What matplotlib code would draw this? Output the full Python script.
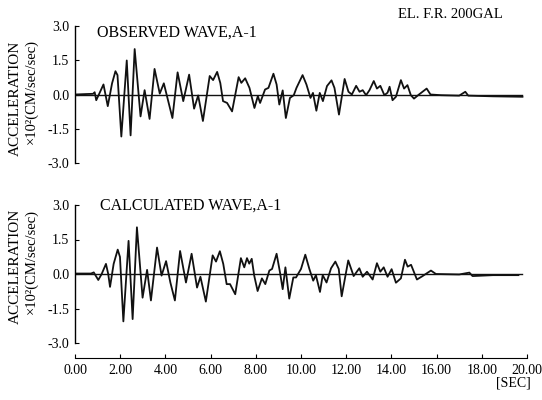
import matplotlib
matplotlib.use("Agg")
import matplotlib.pyplot as plt

# observed wave (time [sec], acceleration x10^2 cm/sec/sec)
obs_t = [0.0, 0.5, 0.8, 0.87, 0.94, 1.08, 1.26, 1.45, 1.64, 1.79, 1.88, 2.05,
         2.29, 2.46, 2.64, 2.90, 3.08, 3.30, 3.52, 3.75, 3.93, 4.31, 4.54, 4.79,
         5.05, 5.27, 5.45, 5.66, 5.96, 6.11, 6.29, 6.43, 6.55, 6.73, 6.95, 7.24,
         7.36, 7.53, 7.72, 7.94, 8.09, 8.19, 8.41, 8.56, 8.78, 8.92, 9.04, 9.19,
         9.33, 9.51, 9.68, 9.80, 10.07, 10.24, 10.42, 10.53, 10.68, 10.83, 10.97,
         11.15, 11.35, 11.48, 11.68, 11.93, 12.10, 12.25, 12.44, 12.59, 12.73,
         12.88, 13.03, 13.22, 13.36, 13.51, 13.69, 13.83, 13.92, 14.05, 14.20,
         14.42, 14.56, 14.71, 14.86, 15.00, 15.22, 15.56, 15.73, 16.2, 17.0,
         17.27, 17.4, 18.5, 19.8]
obs_a = [0.0, 0.02, 0.03, 0.10, -0.25, 0.05, 0.44, -0.51, 0.49, 1.02, 0.85, -1.84,
         1.49, -1.79, 1.99, -0.96, 0.19, -1.07, 1.12, 0.04, 0.49, -1.03, 0.97, -0.29,
         0.87, -0.62, -0.04, -1.16, 0.81, 0.63, 0.99, 0.50, -0.29, -0.37, -0.74, 0.76,
         0.51, 0.71, 0.29, -0.59, -0.07, -0.37, 0.22, 0.29, 0.91, 0.44, -0.44, 0.18,
         -1.03, -0.15, -0.03, 0.29, 0.85, 0.44, -0.15, 0.07, -0.71, 0.07, -0.29,
         0.37, 0.62, 0.29, -0.88, 0.68, 0.12, 0.0, 0.38, 0.12, 0.19,
         -0.03, 0.19, 0.59, 0.26, 0.38, -0.03, 0.08, 0.34, -0.25, -0.10,
         0.63, 0.26, 0.41, -0.03, -0.18, 0.0, 0.26, 0.0, -0.03, -0.05,
         0.12, -0.05, -0.08, -0.10]

# calculated wave
calc_t = [0.0, 0.71, 0.83, 1.03, 1.18, 1.37, 1.47, 1.55, 1.71, 1.89, 1.99, 2.14,
          2.37, 2.55, 2.74, 2.99, 3.19, 3.36, 3.63, 3.83, 4.03, 4.22, 4.42, 4.65,
          4.91, 5.16, 5.40, 5.55, 5.79, 6.09, 6.24, 6.41, 6.56, 6.71, 6.86, 7.09,
          7.34, 7.49, 7.61, 7.71, 7.82, 7.93, 8.08, 8.27, 8.42, 8.60, 8.72, 8.92,
          9.07, 9.19, 9.31, 9.48, 9.66, 9.78, 10.0, 10.19, 10.37, 10.54, 10.66,
          10.84, 10.96, 11.13, 11.33, 11.52, 11.67, 11.80, 12.09, 12.33, 12.58,
          12.73, 12.92, 13.17, 13.36, 13.51, 13.66, 13.83, 14.01, 14.20, 14.42,
          14.60, 14.72, 14.87, 15.13, 15.38, 15.75, 15.97, 17.0, 17.45, 17.59,
          18.5, 19.62]
calc_a = [0.02, 0.02, 0.07, -0.26, 0.0, 0.44, 0.0, -0.56, 0.44, 1.06, 0.74, -2.06,
          1.44, -1.96, 2.03, -1.03, 0.18, -1.15, 1.15, -0.07, 0.56, -0.37, -1.15, 1.0,
          -0.37, 0.88, -0.59, -0.12, -1.20, 0.81, 0.54, 0.99, 0.44, -0.44, -0.44, -0.88,
          0.69, 0.29, 0.69, 0.45, 0.66, -0.07, -0.74, -0.19, -0.44, 0.15, 0.22, 0.88,
          0.07, -0.66, 0.29, -1.07, -0.15, -0.15, 0.22, 0.84, 0.22, -0.29, -0.05,
          -0.78, -0.05, -0.37, 0.25, 0.54, 0.22, -0.97, 0.59, -0.09, 0.25,
          -0.12, 0.10, -0.24, 0.47, 0.10, 0.29, -0.12, 0.21, -0.38, -0.19,
          0.62, 0.32, 0.40, -0.24, -0.09, 0.15, 0.0, -0.02, 0.06, -0.09,
          -0.05, -0.05]

y_ticks = [-3.0, -1.5, 0.0, 1.5, 3.0]
y_ticklabels = ["-3.0", "-1.5", "0.0", "1.5", "3.0"]
x_ticks = [0, 2, 4, 6, 8, 10, 12, 14, 16, 18, 20]
x_ticklabels = ["0.00", "2.00", "4.00", "6.00", "8.00", "10.00", "12.00",
                "14.00", "16.00", "18.00", "20.00"]

SERIF = "Liberation Serif"
plt.rcParams["font.family"] = SERIF

W, H = 542, 400
fig = plt.figure(figsize=(W / 100, H / 100), dpi=100)
fig.patch.set_facecolor("white")


def panel(y_top, y_bot, t, a, title, title_x, title_y, show_x):
    ax = fig.add_axes([75 / W, 1 - y_bot / H, 452 / W, (y_bot - y_top) / H])
    ax.plot(t, a, color="#111", lw=1.3, solid_joinstyle="round")
    ax.axhline(0, xmin=0, xmax=0.99, color="#111", lw=1.0)
    ax.set_xlim(0, 20)
    ax.set_ylim(-3, 3)
    ax.set_yticks(y_ticks)
    ax.set_yticklabels(y_ticklabels, fontsize=10)
    ax.tick_params(axis="y", direction="in", length=3, width=0.8, pad=4)
    for s in ("top", "right"):
        ax.spines[s].set_visible(False)
    ax.spines["left"].set_linewidth(1.0)
    if show_x:
        ax.spines["bottom"].set_position(("outward", 11))
        ax.spines["bottom"].set_linewidth(0.8)
        ax.set_xticks(x_ticks)
        ax.set_xticklabels(x_ticklabels, fontsize=10)
        ax.tick_params(axis="x", direction="in", length=3, width=0.8, pad=4)
    else:
        ax.spines["bottom"].set_visible(False)
        ax.set_xticks([])
    fig.text(title_x / W, 1 - title_y / H, title, ha="left", va="center",
             fontsize=11.5)
    return ax


ax1 = panel(26, 163, obs_t, obs_a, "OBSERVED WAVE,A-1", 97, 33, False)
ax2 = panel(205, 343, calc_t, calc_a, "CALCULATED WAVE,A-1", 100, 206, True)

# y labels (two lines, rotated)
for yc1, yc2 in ((98, 92), (266, 262)):
    fig.text(15 / W, 1 - yc1 / H, "ACCELERATION", rotation=90,
             ha="center", va="center", fontsize=11)
    fig.text(31 / W, 1 - yc2 / H, "\u00d710\u00b2(CM/sec/sec)", rotation=90,
             ha="center", va="center", fontsize=10.5)

fig.text(398 / W, 1 - 14 / H, "EL. F.R. 200GAL", ha="left", va="center", fontsize=10.5)
fig.text(531 / W, 1 - 383 / H, "[SEC]", ha="right", va="center", fontsize=10)

fig.savefig("out.png", dpi=100, facecolor="white")
